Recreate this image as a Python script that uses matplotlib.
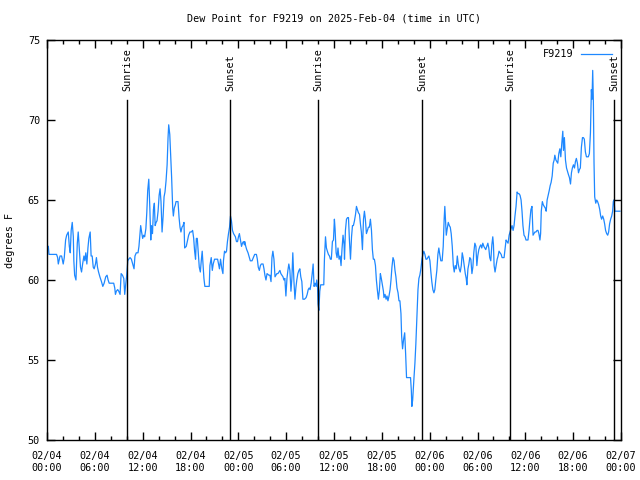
import matplotlib
matplotlib.use("Agg")
import matplotlib.pyplot as plt
import matplotlib.dates as mdates
from matplotlib.ticker import MultipleLocator
import pandas as pd

# minutes after 2025-02-04 00:00 UTC and dew point (F)
minutes = [
    10, 15, 72, 80, 85, 98, 110, 122, 130, 140, 148, 160, 168, 175, 182, 190,
    198, 202, 208, 218, 222, 228, 235, 240, 245, 252, 260, 268, 278, 285, 292,
    300, 308, 315, 325, 332, 340, 348, 355, 365, 372, 380, 388, 398, 410, 420,
    430, 442, 452, 460, 468, 502, 510, 515, 522, 532, 540, 550, 558, 568, 578,
    585, 592, 600, 608, 615, 625, 635, 645, 655, 662, 672, 685, 692, 700, 705,
    712, 720, 728, 735,
    744, 751, 758, 766, 774, 781, 786, 794, 801, 808, 814, 821, 828, 836, 844,
    851, 858, 866, 874, 881, 888, 896, 904, 911, 916, 924, 931, 938, 946, 951,
    958, 966, 971, 986, 994, 1001, 1008, 1016, 1024, 1031, 1036, 1048, 1058,
    1066, 1076, 1086, 1096, 1104, 1111, 1118, 1124, 1131, 1138, 1146, 1154,
    1161, 1168, 1176, 1181, 1188, 1221, 1226, 1236, 1244, 1251, 1261, 1284,
    1291, 1298, 1306, 1316, 1324, 1328, 1336, 1344, 1351, 1358, 1366, 1374,
    1381, 1388, 1396, 1404, 1411, 1418, 1426, 1434, 1441, 1448, 1456, 1464,
    1471, 1478, 1486,
    1488, 1496, 1503, 1513, 1520, 1530, 1543, 1553, 1563, 1576, 1583, 1590,
    1598, 1606, 1613, 1626, 1633, 1640, 1648, 1656, 1670, 1678, 1686, 1693,
    1700, 1708, 1716, 1723, 1730, 1738, 1746, 1753, 1760, 1768, 1776, 1783,
    1790, 1798, 1806, 1813, 1820, 1828, 1836, 1843, 1850, 1858, 1866, 1873,
    1880, 1888, 1896, 1903, 1910, 1918, 1926, 1938, 1950, 1958, 1966, 1973,
    1980, 1988, 1996, 2003, 2010, 2018, 2026, 2030, 2036, 2040, 2046, 2053,
    2060, 2083, 2088, 2096, 2103, 2110, 2118, 2126, 2133, 2140, 2148, 2156,
    2163, 2168, 2176, 2183, 2190, 2198, 2206, 2213, 2220, 2228, 2236,
    2239, 2246, 2254, 2262, 2269, 2276, 2284, 2292, 2299, 2306, 2314, 2322,
    2329, 2336, 2344, 2352, 2359, 2366, 2374, 2382, 2389, 2396, 2404, 2412,
    2419, 2426, 2434, 2442, 2449, 2456, 2464, 2472, 2479, 2486, 2494, 2502,
    2509, 2516, 2524, 2532, 2536, 2544, 2552, 2559, 2566, 2574, 2582, 2589,
    2596, 2604, 2612, 2619, 2626, 2634, 2642, 2649, 2656, 2664, 2669, 2676,
    2684, 2692, 2699, 2706, 2736, 2742, 2746, 2752, 2756, 2762, 2769, 2776,
    2784, 2792, 2799, 2806, 2814, 2822, 2829, 2836, 2844, 2852, 2859, 2866,
    2874, 2882, 2889, 2896, 2904, 2912, 2919, 2926, 2934, 2942, 2949, 2956,
    2964, 2974, 2982, 2989, 2994,
    2998, 3005, 3012, 3020, 3028, 3035, 3042, 3050, 3058, 3065, 3072, 3080,
    3088, 3095, 3102, 3110, 3118, 3125, 3132, 3140, 3148, 3155, 3160, 3168,
    3175, 3182, 3190, 3198, 3205, 3212, 3220, 3228, 3235, 3242, 3250, 3258,
    3265, 3272, 3280, 3288, 3295, 3302, 3310, 3318, 3325, 3332, 3340, 3348,
    3355, 3360, 3365, 3372, 3380, 3388, 3395, 3402, 3410, 3418, 3425, 3440,
    3448, 3455, 3462, 3470, 3478, 3485, 3492, 3500, 3508, 3515, 3522, 3530,
    3538, 3545, 3552, 3560, 3568, 3575, 3582, 3590, 3598, 3605, 3620, 3628,
    3635, 3642, 3650, 3658, 3665, 3672, 3680, 3688, 3695, 3702, 3710, 3715,
    3720, 3728, 3735, 3742,
    3750, 3757, 3764, 3772, 3780, 3787, 3794, 3802, 3810, 3817, 3822, 3830,
    3837, 3844, 3852, 3860, 3867, 3874, 3882, 3887, 3894, 3902, 3910, 3917,
    3924, 3932, 3940, 3947, 3954, 3962, 3970, 3977, 3984, 3992, 4000, 4007,
    4014, 4022, 4030, 4037, 4044, 4052, 4060, 4067, 4074, 4082, 4090, 4097,
    4102, 4107, 4112, 4117, 4122, 4130, 4137, 4144, 4152, 4160, 4167, 4174,
    4182, 4190, 4197, 4204, 4212, 4220, 4227, 4234, 4242, 4250, 4257, 4262,
    4267, 4274, 4312,
]
dewpoint = [
    62.1, 61.6, 61.6, 61.4, 61.0, 61.5, 61.5, 61.0, 61.4, 62.5, 62.8, 63.0, 62.1, 61.7, 63.1, 63.6,
    62.7, 61.2, 60.3, 60.0, 61.0, 62.3, 63.0, 62.3, 61.7, 60.8, 60.5, 61.0, 61.5, 61.2, 61.7,
    61.0, 62.0, 62.6, 63.0, 61.5, 61.5, 60.8, 60.7, 61.0, 61.4, 60.8, 60.5, 60.2, 59.9, 59.6,
    59.8, 60.2, 60.3, 60.0, 59.8, 59.8, 59.5, 59.1, 59.3, 59.4, 59.3, 59.1, 60.4, 60.3, 60.1,
    59.1, 59.7, 60.3, 61.2, 61.3, 61.4, 61.3, 61.0, 60.7, 61.5, 61.7, 61.7, 62.1, 62.9, 63.4,
    63.0, 62.6, 62.8, 62.7,
    63.2, 64.2, 65.6, 66.3, 64.5, 62.5, 63.4, 62.9, 64.4, 64.8, 63.4, 63.6, 63.7, 64.3, 65.3,
    65.7, 64.9, 63.0, 64.0, 65.2, 65.5, 66.2, 67.2, 68.9, 69.7, 69.1, 67.8, 66.4, 64.5, 64.0,
    64.5, 64.7, 64.9, 64.9, 63.9, 63.3, 63.0, 63.3, 63.4, 63.6, 62.0, 62.1, 62.5,
    62.8, 63.0, 63.0, 63.1, 62.6, 61.8, 61.3, 62.6, 62.6, 61.8, 60.8, 60.5,
    61.2, 61.8, 60.8, 60.1, 59.6, 59.6, 60.9, 61.4, 60.6, 61.0, 61.3, 61.3,
    61.0, 60.7, 61.3, 60.7, 60.4, 61.2, 61.8, 61.7, 61.8, 62.4, 62.9, 63.3,
    64.0, 63.7, 63.1, 62.9, 62.8, 62.7, 62.4, 62.4, 62.7, 62.9, 62.5, 62.1,
    62.3, 62.4, 62.2,
    62.4, 62.1, 61.9, 61.7, 61.5, 61.2, 61.2, 61.4, 61.6, 61.6, 61.3, 60.8,
    60.6, 60.9, 61.0, 61.0, 60.7, 60.3, 60.0, 60.4, 60.3, 60.3, 59.9, 61.4,
    61.8, 61.3, 60.2, 60.3, 60.4, 60.4, 60.5, 60.6, 60.4, 60.3, 60.2, 60.0,
    60.1, 59.0, 60.1, 60.6, 61.0, 60.6, 59.3, 60.1, 61.7, 60.0, 58.8, 59.5,
    60.0, 60.4, 60.6, 60.7, 60.2, 59.9, 58.8, 58.8, 58.9, 59.1, 59.4, 59.5,
    59.4, 59.8, 60.4, 61.0, 59.6, 59.8, 59.6, 60.0, 59.6, 58.5, 58.1, 59.3,
    59.7, 59.7, 61.3, 62.7, 62.0, 61.8, 61.6, 61.5, 61.3, 61.3, 62.4, 62.5,
    63.8, 63.2, 61.7, 61.4, 62.0, 61.3, 61.5, 60.9, 61.9, 62.8, 62.2,
    61.3, 63.1, 63.8, 63.9, 63.9, 62.5, 61.3, 62.7, 63.4, 63.4, 63.7, 64.1,
    64.6, 64.4, 64.2, 64.1, 63.5, 63.0, 61.9, 63.8, 64.3, 63.8, 62.9, 63.1,
    63.3, 63.3, 63.8, 63.1, 61.9, 61.3, 61.3, 60.9, 60.0, 59.4, 58.8, 59.4,
    60.4, 60.1, 59.7, 59.3, 58.9, 59.1, 58.8, 59.0, 58.7, 59.0, 59.4, 60.0,
    60.8, 61.4, 61.2, 60.6, 60.2, 59.5, 59.2, 58.7, 58.7, 57.9, 56.5, 55.7,
    56.3, 56.7, 55.4, 53.9, 53.9, 53.1, 52.1, 52.5, 53.1, 53.9, 54.8, 56.0,
    57.7, 59.4, 60.1, 60.3, 60.7, 61.3, 61.6, 61.8, 61.6, 61.3, 61.3, 61.4,
    61.5, 61.2, 60.5, 59.9, 59.4, 59.2, 59.4, 60.0, 60.6, 61.6, 62.0, 61.6,
    61.2, 61.2, 62.1, 63.8, 64.6,
    63.9, 62.8, 63.2, 63.6, 63.4, 63.3, 62.9, 62.1, 60.9, 60.5, 60.9, 60.7,
    61.5, 61.0, 60.7, 60.5, 60.9, 61.7, 61.4, 60.9, 60.4, 60.1, 59.7, 60.7,
    61.0, 61.4, 61.3, 60.4, 60.8, 61.7, 62.3, 62.1, 60.9, 61.5, 61.9, 62.1,
    62.2, 62.0, 62.3, 62.1, 62.0, 61.9, 62.1, 62.3, 62.0, 61.4, 61.2, 62.2,
    62.7, 62.2, 60.9, 60.5, 60.9, 61.3, 61.5, 61.8, 61.7, 61.6, 61.4, 61.4,
    62.0, 62.5, 62.4, 62.3, 62.8, 63.0, 63.2, 63.4, 63.1, 63.4, 64.0, 64.6,
    65.5, 65.4, 65.4, 65.3, 65.0, 64.3, 63.4, 62.8, 62.7, 62.5, 62.5, 63.1,
    63.8, 64.4, 64.6, 62.8, 62.9, 63.0, 63.0, 63.1, 63.1, 62.9, 62.5, 62.9,
    64.3, 64.9, 64.7, 64.6,
    64.5, 64.3, 65.0, 65.3, 65.6, 65.9, 66.1, 66.5, 67.3, 67.5, 67.8, 67.5,
    67.4, 67.3, 67.9, 68.2, 67.7, 68.5, 69.3, 68.1, 68.9, 67.5, 67.0, 66.8,
    66.6, 66.4, 66.0, 66.7, 67.0, 67.2, 67.0, 67.4, 67.6, 67.3, 66.7, 66.9,
    67.0, 68.3, 68.9, 68.9, 68.8, 68.0, 67.7, 67.7, 67.7, 67.9, 69.2, 71.9,
    71.3, 73.1, 71.2, 67.3, 65.2, 64.8, 65.0, 64.9, 64.7, 64.4, 64.0, 63.8,
    64.0, 63.8, 63.5, 63.1, 62.9, 62.8, 63.0, 63.5, 63.8, 64.0, 64.3, 64.9,
    65.0, 64.3, 64.3,
]

sun_times = ["2025-02-04 10:02", "2025-02-04 22:59", "2025-02-05 10:02",
             "2025-02-05 23:04", "2025-02-06 10:05", "2025-02-06 23:09"]
sun_labels = ["Sunrise", "Sunset", "Sunrise", "Sunset", "Sunrise", "Sunset"]

start = pd.Timestamp("2025-02-04 00:00")
t = start + pd.to_timedelta(minutes, unit="min")

fs = 7.3
plt.rcParams["font.family"] = ["DejaVu Sans Mono"]
plt.rcParams["font.size"] = fs

fig = plt.figure(figsize=(6.4, 4.8), dpi=100)
ax = fig.add_axes([47/640, 40/480, 574/640, 400/480])

ax.plot(t, dewpoint, color="#1e88ff", lw=0.9, label="F9219")

for st, lab in zip(sun_times, sun_labels):
    ts = pd.Timestamp(st)
    ax.plot([ts, ts], [50, 71.25], color="black", lw=1.0)
    ax.text(ts, 71.8, lab, rotation=90, ha="center", va="bottom", fontsize=fs)

ax.set_xlim(start, start + pd.Timedelta(hours=72))
ax.set_ylim(50, 75)
ax.xaxis.set_major_locator(mdates.HourLocator(byhour=range(0, 24, 6)))
ax.xaxis.set_minor_locator(mdates.HourLocator(byhour=range(0, 24, 2)))
ax.xaxis.set_major_formatter(mdates.DateFormatter("%m/%d\n%H:%M"))
ax.yaxis.set_major_locator(MultipleLocator(5))

ax.tick_params(which="both", direction="in", top=True, right=True, width=1,
               labelsize=fs)
ax.tick_params(which="major", length=6)
ax.tick_params(which="minor", length=3)
ax.tick_params(axis="x", pad=8)
ax.tick_params(axis="y", pad=5)
for s in ax.spines.values():
    s.set_linewidth(1.0)

ax.set_title("Dew Point for F9219 on 2025-Feb-04 (time in UTC)", fontsize=fs,
             pad=13)
ax.set_ylabel("degrees F", fontsize=fs)
ax.yaxis.set_label_coords(-0.056, 0.5)

ax.legend(loc="upper right", frameon=False, markerfirst=False, fontsize=fs,
          handlelength=3.0, handletextpad=0.8, borderaxespad=0.5)

fig.savefig("out.png", dpi=100)
